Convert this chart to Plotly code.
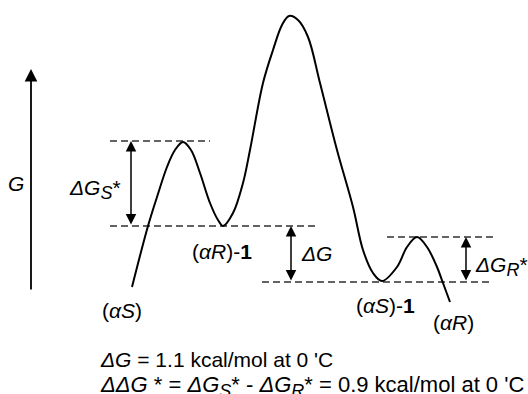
import plotly.graph_objects as go

# ---- data (x = reaction coordinate, G = free energy, arbitrary units) ----
reaction_coord = [132, 148, 157, 167, 175, 183, 191, 200, 210, 218, 223, 233, 243, 250, 263, 273,
                  282, 289, 298, 308, 320, 337, 353, 363, 373, 382, 397, 407, 417, 427, 437, 443, 450]
free_energy = [107, 168, 197, 227, 244, 252, 244, 221, 191, 174, 168, 181, 211, 244, 311, 344,
               369, 378, 374, 357, 311, 244, 187, 144, 121, 113, 127, 147, 157, 147, 127, 111, 92]

# energy levels of the dashed reference lines
level_TS_S = 253      # barrier top for (alphaS) side
level_R1 = 168        # (alphaR)-1 minimum
level_S1 = 112        # (alphaS)-1 minimum
level_TS_R = 157      # barrier top for (alphaR) side

# reference line extents (reaction coordinate)
dash_TS_S = [110, 210]
dash_R1 = [110, 319]
dash_S1 = [262, 492]
dash_TS_R = [387, 494]

# arrows
arrow_GS_x = 131
arrow_dG_x = 291
arrow_GR_x = 466
G_axis_x = 31
G_axis_range = [103, 325]

FONT = "Liberation Sans, Arial, sans-serif"
FS = 21

fig = go.Figure()
fig.add_trace(go.Scatter(
    x=reaction_coord, y=free_energy, mode="lines",
    line=dict(color="black", width=2, shape="spline", smoothing=1.0),
    hoverinfo="skip", showlegend=False))

dash_style = dict(color="#303030", width=1.4, dash="7px,4px")
for (x0, x1), lv in [(dash_TS_S, level_TS_S), (dash_R1, level_R1),
                     (dash_S1, level_S1), (dash_TS_R, level_TS_R)]:
    fig.add_shape(type="line", x0=x0, x1=x1, y0=lv, y1=lv, line=dash_style, layer="below")

def dbl_arrow(x, y_lo, y_hi):
    fig.add_annotation(x=x, y=y_hi, ax=x, ay=y_lo, xref="x", yref="y", axref="x", ayref="y",
                       text="", showarrow=True, arrowhead=2, startarrowhead=2,
                       arrowside="end+start", arrowsize=1.4, startarrowsize=1.4,
                       arrowwidth=1.5, arrowcolor="black", standoff=0, startstandoff=0)

dbl_arrow(arrow_GS_x, level_R1, level_TS_S)
dbl_arrow(arrow_dG_x, level_S1, level_R1)
dbl_arrow(arrow_GR_x, level_S1, level_TS_R)

# G axis arrow
fig.add_annotation(x=G_axis_x, y=G_axis_range[1], ax=G_axis_x, ay=G_axis_range[0],
                   xref="x", yref="y", axref="x", ayref="y", text="", showarrow=True,
                   arrowhead=2, arrowsize=1.4, arrowwidth=1.8, arrowcolor="black", standoff=0)

def label(x, y, txt, xanchor="center", size=FS):
    fig.add_annotation(x=x, y=y, xref="x", yref="y", text=txt, showarrow=False,
                       xanchor=xanchor, yanchor="middle",
                       font=dict(family=FONT, size=size, color="black"))

def sub(s):
    return "<sub><span style='font-size:18px'>" + s + "</span></sub>"

label(16, 211, "<i>G</i>")
label(95, 205, "<i>ΔG" + sub("S") + "</i>*")
label(222, 143, "(<i>α</i><i>R</i>)-<b>1</b>")
label(122, 84, "(<i>α</i><i>S</i>)")
label(316, 141, "<i>ΔG</i>")
label(385, 89, "(<i>α</i><i>S</i>)-<b>1</b>")
label(453, 72, "(<i>α</i><i>R</i>)")
label(501, 128, "<i>ΔG" + sub("R") + "</i>*")
label(98, 35, "<i>ΔG</i> = 1.1 kcal/mol at 0 'C", xanchor="left", size=21)
label(98, 8, "<i>ΔΔG</i> * = <i>ΔG" + sub("S") + "</i>* - <i>ΔG" + sub("R") + "</i>* = 0.9 kcal/mol at 0 'C",
      xanchor="left", size=22)

fig.update_layout(
    width=528, height=394, margin=dict(l=0, r=0, t=0, b=0),
    paper_bgcolor="white", plot_bgcolor="white",
    xaxis=dict(range=[0, 528], visible=False, fixedrange=True),
    yaxis=dict(range=[0, 394], visible=False, fixedrange=True),
    showlegend=False)

fig.write_html("out.html", config={"displayModeBar": False},
               post_script="document.body.style.margin='0';document.body.style.overflow='hidden';")
